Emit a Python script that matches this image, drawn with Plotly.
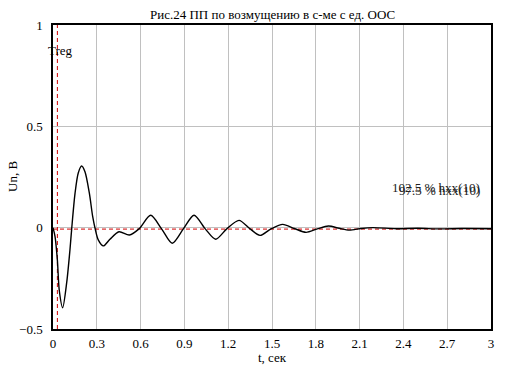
import plotly.graph_objects as go

# Transient response
t_vals = [0.0, 0.014, 0.03, 0.043, 0.066, 0.094, 0.116, 0.128, 0.151, 0.173, 0.196,
          0.219, 0.249, 0.272, 0.288, 0.31, 0.345, 0.39, 0.452, 0.523, 0.589, 0.669,
          0.744, 0.817, 0.893, 0.966, 1.043, 1.114, 1.19, 1.274, 1.35, 1.418, 1.493,
          1.573, 1.653, 1.733, 1.81, 1.886, 1.96, 2.03, 2.11, 2.19, 2.35, 2.5, 2.65,
          2.8, 3.0]
u_vals = [0.0, -0.044, -0.16, -0.31, -0.395, -0.27, -0.11, -0.006, 0.17, 0.27, 0.304,
          0.276, 0.17, 0.054, -0.003, -0.06, -0.09, -0.057, -0.02, -0.036, -0.006, 0.061,
          -0.006, -0.077, -0.006, 0.061, -0.006, -0.057, -0.006, 0.036, -0.006, -0.038, -0.006,
          0.016, -0.004, -0.023, -0.006, 0.008, -0.003, -0.012, -0.004, 0.0, -0.005, -0.003, -0.006,
          -0.004, -0.005]

treg = 0.03
h_inf = -0.007
x_ticks = [0, 0.3, 0.6, 0.9, 1.2, 1.5, 1.8, 2.1, 2.4, 2.7, 3]
x_tick_text = ["0", "0.3", "0.6", "0.9", "1.2", "1.5", "1.8", "2.1", "2.4", "2.7", "3"]
y_ticks = [-0.5, 0, 0.5, 1]
y_tick_text = ["−0.5", "0", "0.5", "1"]
title_text = "Рис.24 ПП по возмущению в с-ме с ед. ООС"
x_title = "t, сек"
y_title = "Un, B"
band_labels = ["102.5 % hxx(10)", "97.5 % hxx(10)"]
band_label_y = [0.196, 0.183]

FONT = "Liberation Serif, Times New Roman, serif"
OFF = 8  # page body margin of the browser
W, H = 508 - OFF, 383 - OFF
L, R, T, B = 53 - OFF, 17, 25 - OFF, 54

fig = go.Figure()
fig.add_trace(go.Scatter(x=[0, 3], y=[h_inf, h_inf], mode="lines",
                         line=dict(color="#d00000", width=1, dash="4px,3px"),
                         hoverinfo="skip", showlegend=False))
fig.add_trace(go.Scatter(x=[treg, treg], y=[-0.5, 1], mode="lines",
                         line=dict(color="#d00000", width=1, dash="4px,3px"),
                         hoverinfo="skip", showlegend=False))
fig.add_trace(go.Scatter(x=t_vals, y=u_vals, mode="lines",
                         line=dict(color="black", width=1.4, shape="spline", smoothing=0.8),
                         showlegend=False))

for txt, yy in zip(band_labels, band_label_y):
    fig.add_annotation(x=2.938, y=yy, xref="x", yref="y", text=txt, showarrow=False,
                       xanchor="right", yanchor="middle",
                       font=dict(family=FONT, size=13, color="#222"))

pw = W - L - R
ph = H - T - B
def px(xp):
    return (xp - OFF - L) / pw
def py(yp):
    return (H - B - (yp - OFF)) / ph

fig.add_annotation(x=px(46), y=py(50), xref="paper", yref="paper", text="Treg",
                   showarrow=False, xanchor="left", yanchor="middle",
                   font=dict(family=FONT, size=13, color="black"))
fig.add_annotation(x=px(272), y=py(14), xref="paper", yref="paper", text=title_text,
                   showarrow=False, xanchor="center", yanchor="middle",
                   font=dict(family=FONT, size=13, color="black"))
fig.add_annotation(x=px(272), y=py(357), xref="paper", yref="paper", text=x_title,
                   showarrow=False, xanchor="center", yanchor="middle",
                   font=dict(family=FONT, size=13, color="black"))
fig.add_annotation(x=px(12), y=py(177), xref="paper", yref="paper", text=y_title,
                   showarrow=False, xanchor="center", yanchor="middle", textangle=-90,
                   font=dict(family=FONT, size=13, color="black"))

fig.update_layout(
    width=W, height=H,
    margin=dict(l=L, r=R, t=T, b=B, autoexpand=False),
    paper_bgcolor="white", plot_bgcolor="white",
    font=dict(family=FONT, size=13, color="black"),
)
fig.update_xaxes(range=[0, 3], tickvals=x_ticks, ticktext=x_tick_text, automargin=False,
                 showgrid=True, gridcolor="#c0c0c0", gridwidth=1,
                 showline=True, linecolor="black", linewidth=1.5, mirror=True,
                 zeroline=False, ticks="", ticklabelstandoff=2)
fig.update_yaxes(range=[-0.5, 1], tickvals=y_ticks, ticktext=y_tick_text, automargin=False,
                 showgrid=True, gridcolor="#c0c0c0", gridwidth=1,
                 showline=True, linecolor="black", linewidth=1.5, mirror=True,
                 zeroline=False, ticks="", ticklabelstandoff=6)

fig.write_html("out.html")
